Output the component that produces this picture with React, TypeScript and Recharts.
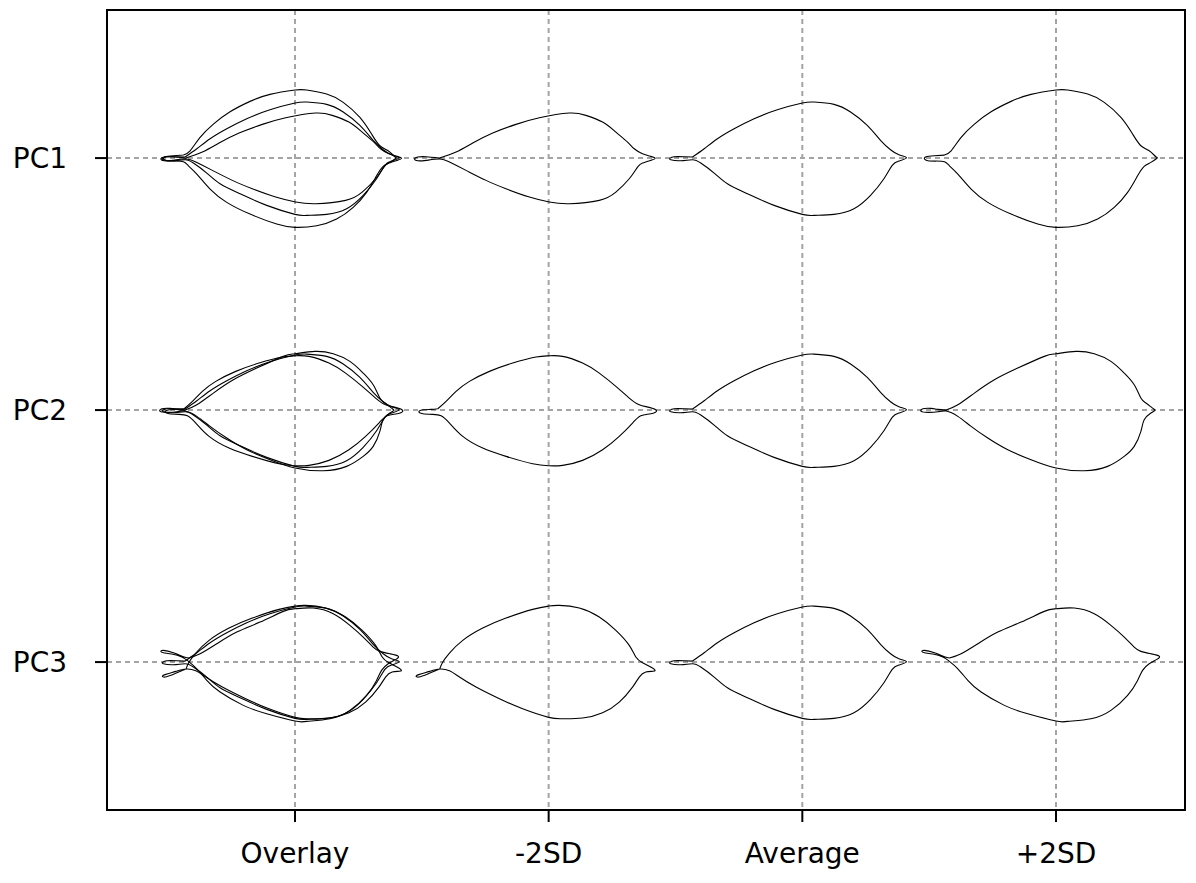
import { ComposedChart, Line, XAxis, YAxis, CartesianGrid, ReferenceArea } from 'recharts'

// column + row labels
const columns = ['Overlay', '-2SD', 'Average', '+2SD']
const rows = ['PC1', 'PC2', 'PC3']

// outlines: [dx, dy] in local units around each grid point (dy up)
const pc1Minus: [number, number][] = [
  [-109.3, 0], [-92.7, 6], [-76, 15], [-56, 25], [-32.7, 33.7], [-9.3, 40.3], [20.7, 45], [37.3, 42.7],
  [54, 36], [67.3, 26], [79, 16], [85.7, 9.3], [94, 4.3], [102.3, 1.7], [106.7, -0.3], [102.3, -2.3],
  [94, -5], [89, -9], [80.7, -20.7], [67.3, -34], [50.7, -42.3], [20.7, -45.7], [0.7, -44], [-19.3, -39],
  [-42.7, -30.7], [-62.7, -22.3], [-82.7, -12.3], [-99.3, -4], [-109.3, -1], [-122.7, -2.3], [-131, -2.7],
  [-134.3, -1], [-131, 1], [-122.7, 1.3],
]
const average: [number, number][] = [
  [-110, 1], [-98.3, 9.3], [-85, 19.3], [-68.3, 29.3], [-48.3, 39.3], [-25, 48.3], [0, 55], [11.7, 56],
  [31.7, 53.7], [48.3, 46], [65, 32.7], [78.3, 17.7], [88.3, 8.3], [96.7, 3.3], [104.3, 0.3], [96.7, -3],
  [90, -7.3], [81.7, -20.7], [68.3, -37.3], [51.7, -50.7], [31.7, -56.3], [11.7, -57.3], [0, -56.3],
  [-28.3, -47.3], [-55, -35.7], [-75, -25.7], [-88.3, -15], [-101.7, -5], [-110, -1.7], [-121.7, -2.7],
  [-131.7, -1.7], [-132.3, 0], [-128.3, 1.3], [-118.3, 1.3],
]
const pc1Plus: [number, number][] = [
  [-111.7, 3], [-105, 7.3], [-95, 20.7], [-81.7, 34], [-65, 46.3], [-45, 56.7], [-25, 63.7], [0, 68],
  [11.7, 68], [31.7, 64], [48.3, 55.7], [65, 40.7], [76.7, 24], [85, 12.3], [93.3, 7.3], [100, 1.3],
  [101, -0.3], [95, -4.3], [88.3, -8.3], [81.7, -17.7], [71.7, -34.3], [58.3, -49.3], [41.7, -61],
  [21.7, -67.7], [0, -69.3], [-18.3, -66], [-45, -56], [-68.3, -44.3], [-85, -31], [-98.3, -16],
  [-106.7, -7.7], [-111.7, -3.7], [-120, -3], [-128.3, -2.7], [-131.7, -1], [-130, 1.3], [-121.7, 2.3],
]
const pc2Minus: [number, number][] = [
  [-111, 1.3], [-102.7, 8.7], [-92.7, 18.7], [-79.3, 28.7], [-59.3, 38.7], [-36, 47], [-12.7, 53], [0, 54.3],
  [14, 53.7], [34, 47], [50.7, 37], [67.3, 23.7], [80.7, 12], [90.7, 5.3], [100.7, 2.7], [108, -0.7],
  [102.3, -3.7], [92.3, -5.7], [84, -13], [70.7, -26.3], [54, -39.7], [34, -50.3], [14, -55.3], [0, -55.7],
  [-16, -53.7], [-42.7, -46.3], [-66, -38], [-86, -26.3], [-99.3, -13], [-107.7, -5.7], [-116, -4.3],
  [-126, -3.7], [-130, -1.7], [-126, 0.3], [-117.7, 0.7],
]
const pc2Plus: [number, number][] = [
  [-110, 0], [-98.3, 5.3], [-81.7, 17], [-61.7, 30.3], [-38.3, 42], [-11.7, 53.7], [0, 56.3], [20, 58.7],
  [38.3, 56.3], [55, 48.7], [68.3, 37], [78.3, 25.3], [85, 12], [90, 7], [96.7, 2], [99, -0.3], [95, -3],
  [88.3, -9.7], [85, -21.3], [78.3, -36.3], [68.3, -46.3], [51.7, -56.3], [28.3, -60.7], [0, -58],
  [-25, -49.7], [-48.3, -39.7], [-68.3, -28], [-85, -16.3], [-98.3, -6.3], [-110, -1], [-118.3, -1.7],
  [-128.3, -2.3], [-135, -1.3], [-133.3, 1.3], [-125, 1.7], [-118.3, 0.7],
]
const pc3Minus: [number, number][] = [
  [-109.3, -7.3], [-106, 0], [-99.3, 9], [-86, 21.7], [-66, 34], [-42.7, 44], [-16, 52.7], [0, 56],
  [10.7, 56.7], [30.7, 54], [50.7, 45], [67.3, 31.7], [80.7, 16.7], [87.3, 5], [94, -0.7], [104, -6],
  [105.7, -9], [97.3, -10], [90.7, -15], [84, -25], [70.7, -40], [54, -50.7], [34, -56], [14, -56.7],
  [0, -55.3], [-26, -46.7], [-49.3, -36.7], [-72.7, -25], [-89.3, -15], [-99.3, -8.7], [-109.3, -7],
  [-119.3, -9.3], [-129.3, -12.3], [-132.7, -14], [-130, -15], [-121, -12], [-111, -7.7],
]
const pc3Plus: [number, number][] = [
  [-106.7, 4], [-95, 8.3], [-78.3, 18.3], [-58.3, 30], [-35, 40], [-11.7, 50.7], [0, 53.3], [18.3, 54],
  [38.3, 48.3], [55, 36.7], [68.3, 25], [78.3, 15], [85, 10.7], [95, 8.3], [103.3, 6], [101, 2.7],
  [93.3, -1.7], [86.7, -8.3], [81.7, -18.3], [71.7, -33.3], [55, -48.3], [35, -56.7], [11.7, -59.3],
  [0, -59], [-28.3, -51.7], [-51.7, -43.3], [-75, -30], [-88.3, -18.3], [-98.3, -6.7], [-106.7, 0.7],
  [-113.3, 5], [-123.3, 8], [-131.7, 9.3], [-134.3, 10.7], [-131.7, 11.7], [-121.7, 9.3], [-111.7, 5.3],
]

// per row: -2SD, Average, +2SD
const rowShapes = [
  [pc1Minus, average, pc1Plus],
  [pc2Minus, average, pc2Plus],
  [pc3Minus, average, pc3Plus],
]

const X_STEP = 254
const Y_STEP = 252
const X_DOMAIN: [number, number] = [0.259, 4.5085]
const Y_DOMAIN: [number, number] = [0.413, 3.5876]

function place(outline: [number, number][], cx: number, cy: number) {
  const pts = outline.map(([dx, dy]) => ({ x: cx + dx / X_STEP, y: cy + dy / Y_STEP }))
  return [...pts, pts[0]]
}

const series: { key: string; data: { x: number; y: number }[] }[] = []
rowShapes.forEach((shapes, r) => {
  const cy = rows.length - r
  shapes.forEach((outline, s) => {
    series.push({ key: `r${r}-s${s}`, data: place(outline, s + 2, cy) })
    series.push({ key: `r${r}-o${s}`, data: place(outline, 1, cy) })
  })
})

const FONT = '"DejaVu Sans", "Noto Sans", sans-serif'

export default function App() {
  return (
    <ComposedChart
      width={1180}
      height={870}
      margin={{ top: 2, right: 3, left: 0, bottom: 0 }}
    >
      <CartesianGrid
        stroke="#a4a4a4"
        strokeWidth={2}
        strokeDasharray="5 4"
      />
      <XAxis
        type="number"
        dataKey="x"
        domain={X_DOMAIN}
        ticks={[1, 2, 3, 4]}
        tickFormatter={(v: number) => columns[v - 1]}
        allowDataOverflow
        height={68}
        tickSize={12}
        tickMargin={21}
        axisLine={{ stroke: '#000', strokeWidth: 2 }}
        tickLine={{ stroke: '#000', strokeWidth: 2 }}
        tick={{ fill: '#000', fontSize: 28, fontFamily: FONT }}
      />
      <YAxis
        type="number"
        dataKey="y"
        domain={Y_DOMAIN}
        ticks={[1, 2, 3]}
        tickFormatter={(v: number) => rows[rows.length - v]}
        allowDataOverflow
        width={99}
        tickSize={12}
        tickMargin={28}
        axisLine={{ stroke: '#000', strokeWidth: 2 }}
        tickLine={{ stroke: '#000', strokeWidth: 2 }}
        tick={{ fill: '#000', fontSize: 28, fontFamily: FONT }}
      />
      <ReferenceArea
        x1={X_DOMAIN[0]}
        x2={X_DOMAIN[1]}
        y1={Y_DOMAIN[0]}
        y2={Y_DOMAIN[1]}
        fill="none"
        stroke="#000"
        strokeWidth={2}
        ifOverflow="visible"
      />
      {series.map((s) => (
        <Line
          key={s.key}
          data={s.data}
          dataKey="y"
          type="natural"
          stroke="#000"
          strokeWidth={1.1}
          dot={false}
          activeDot={false}
          isAnimationActive={false}
        />
      ))}
    </ComposedChart>
  )
}
